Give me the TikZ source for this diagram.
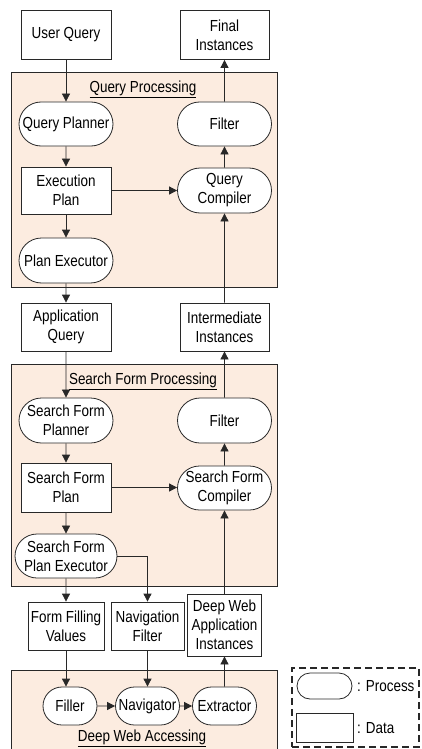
\documentclass[tikz,border=0pt]{standalone}
\usepackage{fontspec}
\setmainfont{Liberation Sans}[FakeStretch=0.84]
\usetikzlibrary{arrows.meta,shapes.misc}
\definecolor{peach}{RGB}{252,236,224}
\definecolor{ln}{RGB}{40,40,40}
\begin{document}
\begin{tikzpicture}[x=1pt,y=-1pt,
  font=\fontsize{16}{19}\selectfont,
  base/.style={draw=ln, line width=0.8pt, fill=white, align=center, inner sep=1pt},
  data/.style={base, rectangle},
  proc/.style={base, rounded rectangle},
  arr/.style={draw=ln, line width=0.8pt, -{Triangle[length=8pt,width=8pt]}},
  box/.style={draw=ln, line width=0.8pt, fill=peach},
  lbl/.style={inner sep=0pt},
  legbox/.style={draw=ln, line width=1.6pt, dash pattern=on 7pt off 4pt}]
\useasboundingbox (0,0) rectangle (421,749);
% containers
\node[box, minimum width=266pt, minimum height=215pt] (qpbox) at (144,179.5) {};
\node[box, minimum width=266pt, minimum height=222pt] (sfbox) at (144,475) {};
\node[box, minimum width=266pt, minimum height=96pt] (dwbox) at (144,718) {};
% labels
\node[lbl] (qplbl) at (143,89) {\underline{Query Processing}};
\node[lbl] (sflbl) at (143,381) {\underline{Search Form Processing}};
\node[lbl] (dwlbl) at (142,738) {\underline{Deep Web Accessing}};
% top
\node[data, minimum width=90pt, minimum height=49pt] (uq) at (66,35) {User Query};
\node[data, minimum width=89pt, minimum height=49pt] (fi) at (224.5,35) {Final\\Instances};
\node[proc, minimum width=96pt, minimum height=44pt] (qpl) at (66,124) {Query Planner};
\node[proc, minimum width=96pt, minimum height=44pt] (f1) at (224.5,124) {Filter};
\node[data, minimum width=90pt, minimum height=47pt] (ep) at (66,190.5) {Execution\\Plan};
\node[proc, minimum width=96pt, minimum height=45pt] (qc) at (224.5,190.5) {Query\\Compiler};
\node[proc, minimum width=96pt, minimum height=45pt] (pe) at (66,260.5) {Plan Executor};
% middle
\node[data, minimum width=90pt, minimum height=48pt] (aq) at (66,327) {Application\\Query};
\node[data, minimum width=89pt, minimum height=48pt] (ii) at (224.5,327) {Intermediate\\Instances};
\node[proc, minimum width=96pt, minimum height=45pt] (sfp) at (66,420.5) {Search Form\\Planner};
\node[proc, minimum width=96pt, minimum height=45pt] (f2) at (224.5,420.5) {Filter};
\node[data, minimum width=90pt, minimum height=49pt] (sfpl) at (66,487.5) {Search Form\\Plan};
\node[proc, minimum width=96pt, minimum height=44pt] (sfc) at (224.5,488) {Search Form\\Compiler};
\node[proc, minimum width=104pt, minimum height=44pt] (sfpe) at (66,556) {Search Form\\Plan Executor};
% bottom
\node[data, minimum width=76pt, minimum height=48pt] (ffv) at (66,626) {Form Filling\\Values};
\node[data, minimum width=73pt, minimum height=48pt] (nf) at (147.5,626) {Navigation\\Filter};
\node[data, minimum width=74pt, minimum height=62pt] (dwai) at (224.5,625) {Deep Web\\Application\\Instances};
\node[proc, minimum width=56pt, minimum height=38pt] (filler) at (70,706) {Filler};
\node[proc, minimum width=66pt, minimum height=38pt] (nav) at (147.5,706) {Navigator};
\node[proc, minimum width=66pt, minimum height=38pt] (ext) at (224.5,706) {Extractor};
% legend
\node[legbox, minimum width=127pt, minimum height=79pt] (leg) at (355.5,707.5) {};
\node[proc, minimum width=57pt, minimum height=26pt] (legp) at (324.5,686) {};
\node[data, minimum width=57pt, minimum height=29pt] (legd) at (324.5,727.5) {};
\node[lbl, anchor=west] (legpt) at (357,686) {: Process};
\node[lbl, anchor=west] (legdt) at (357,728) {: Data};
% connectors
\draw[arr] (uq) -- (qpl);
\draw[arr] (qpl) -- (ep);
\draw[arr] (ep) -- (qc);
\draw[arr] (ep) -- (pe);
\draw[arr] (pe) -- (aq);
\draw[arr] (qc) -- (f1);
\draw[arr] (f1) -- (fi);
\draw[arr] (ii) -- (qc);
\draw[arr] (aq) -- (sfp);
\draw[arr] (sfp) -- (sfpl);
\draw[arr] (sfpl) -- (sfpe);
\draw[arr] (sfpl.east) -- (sfpl.east -| sfc.west);
\draw[arr] (sfc) -- (f2);
\draw[arr] (f2) -- (ii);
\draw[arr] (sfpe) -- (ffv);
\draw[arr] (sfpe.east) -| (nf.north);
\draw[arr] (dwai) -- (sfc);
\draw[arr] (ffv.south) -- (ffv.south |- filler.north);
\draw[arr] (nf) -- (nav);
\draw[arr] (filler) -- (nav);
\draw[arr] (nav) -- (ext);
\draw[arr] (ext) -- (dwai);
\end{tikzpicture}
\end{document}
